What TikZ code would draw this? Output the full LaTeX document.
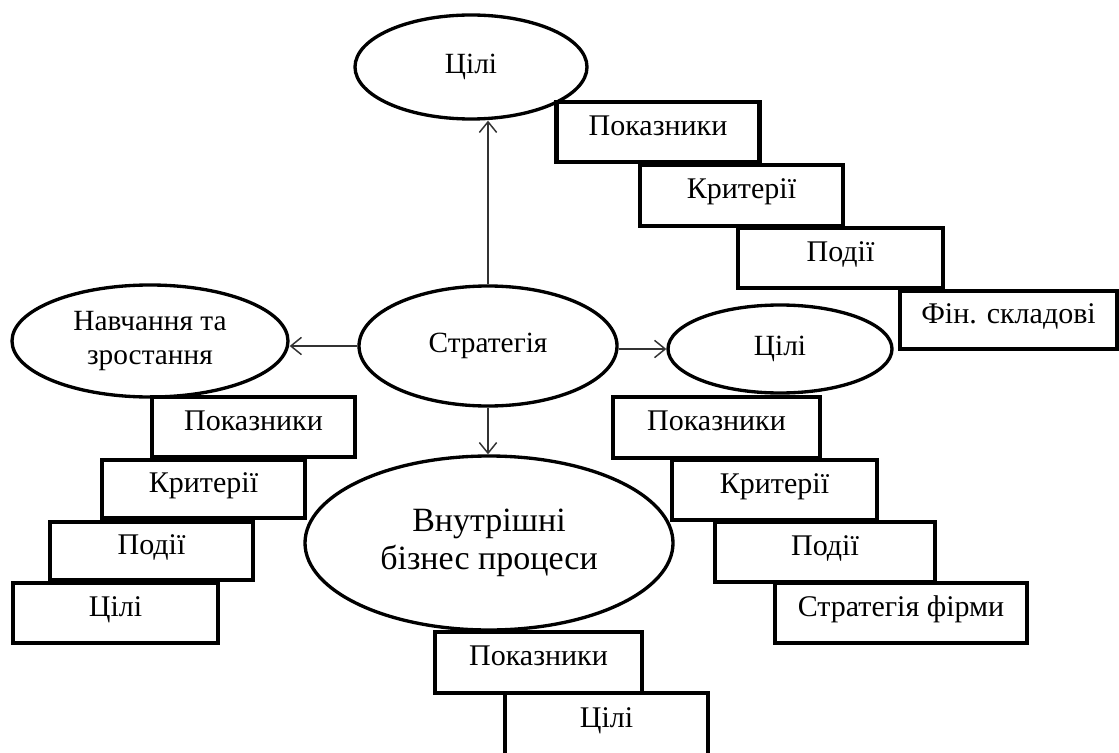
\documentclass[tikz,border=0pt]{standalone}
\usepackage{fontspec}
\setmainfont{Liberation Serif}
\usetikzlibrary{shapes.geometric,arrows.meta}
\tikzset{
  oval/.style={ellipse, draw=black, line width=2.5pt, fill=white, inner sep=0pt,
    align=center, font=\fontsize{22}{25.5}\selectfont},
  stepbox/.style={rectangle, draw=black, line width=3.4pt, fill=white, inner sep=0pt,
    text height=0.7em, text depth=0.2em, font=\fontsize{22.5}{25}\selectfont},
  arr/.style={draw=black!80, line width=1.1pt,
    -{Straight Barb[length=8pt,width=13pt,line width=1.1pt]}}
}
\begin{document}
\begin{tikzpicture}[x=0.75pt,y=-0.75pt]
\clip (0,0) rectangle (1119,752);
\fill[white] (0,0) rectangle (1119,752);
% ellipses
\node[oval, minimum width=174pt, minimum height=78pt] (topC) at (471,67) {\raisebox{3pt}{Цілі}};
\node[oval, minimum width=193.5pt, minimum height=90pt] (strat) at (488,346) {\raisebox{3pt}{Стратегія}};
\node[oval, minimum width=207pt, minimum height=84pt] (learn) at (150,341) {Навчання та\\зростання};
\node[oval, minimum width=168pt, minimum height=66pt] (rightC) at (780,349) {\raisebox{3pt}{Цілі}};
\node[oval, minimum width=276pt, minimum height=130.5pt, font=\fontsize{25.5}{28.5}\selectfont] (proc) at (489,543) {Внутрішні\\бізнес процеси};
% arrows
\draw[arr] (strat.north) -- (strat.north |- topC.south);
\draw[arr] (strat.west) -- (strat.west -| learn.east);
\draw[arr] (rightC.west -| strat.east) -- (rightC.west);
\draw[arr] (strat.south) -- (strat.south |- proc.north);
% top-right stairs
\node[stepbox, minimum width=152.25pt, minimum height=45pt] (t1) at (658,132) {Показники};
\node[stepbox, minimum width=152.25pt, minimum height=45.75pt] (t2) at (741.5,195.5) {Критерії};
\node[stepbox, minimum width=153.75pt, minimum height=45pt] (t3) at (840.5,258) {Події};
\node[stepbox, minimum width=162.75pt, minimum height=43.5pt] (t4) at (1008.5,320) {Фін. складові};
% left stairs
\node[stepbox, minimum width=152.25pt, minimum height=45pt] (l1) at (253.5,427) {Показники};
\node[stepbox, minimum width=152.25pt, minimum height=43.5pt] (l2) at (203.5,489) {Критерії};
\node[stepbox, minimum width=152.25pt, minimum height=43.5pt] (l3) at (151.5,551) {Події};
\node[stepbox, minimum width=153.75pt, minimum height=45pt] (l4) at (115.5,613) {Цілі};
% right stairs
\node[stepbox, minimum width=155.25pt, minimum height=45.75pt] (r1) at (716.5,427.5) {Показники};
\node[stepbox, minimum width=153.75pt, minimum height=45pt] (r2) at (774.5,490) {Критерії};
\node[stepbox, minimum width=165pt, minimum height=45pt] (r3) at (825,552) {Події};
\node[stepbox, minimum width=189pt, minimum height=45pt] (r4) at (901,613) {Стратегія фірми};
% bottom stairs
\node[stepbox, minimum width=155.25pt, minimum height=45.75pt] (b1) at (538.5,662.5) {Показники};
\node[stepbox, minimum width=152.25pt, minimum height=46.5pt] (b2) at (606.5,724) {Цілі};
\end{tikzpicture}
\end{document}
